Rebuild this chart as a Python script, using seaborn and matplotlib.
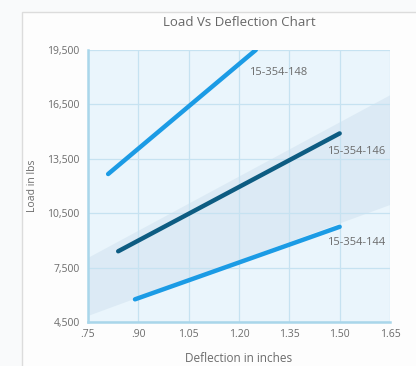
import numpy as np
import pandas as pd
import matplotlib
matplotlib.use("Agg")
import matplotlib.pyplot as plt
from matplotlib.patches import Rectangle, Polygon
import seaborn as sns

# Load vs deflection for each spring part number
parts = ["15-354-148", "15-354-146", "15-354-144"]
deflection_148 = [0.81, 1.25]
load_148 = [12660, 19500]
deflection_146 = [0.84, 1.50]
load_146 = [8400, 14900]
deflection_144 = [0.89, 1.50]
load_144 = [5750, 9750]

x_ticks = [0.75, 0.90, 1.05, 1.20, 1.35, 1.50, 1.65]
x_tick_labels = [".75", ".90", "1.05", "1.20", "1.35", "1.50", "1.65"]
y_ticks = [4500, 7500, 10500, 13500, 16500, 19500]
y_tick_labels = ["4,500", "7,500", "10,500", "13,500", "16,500", "19,500"]

df = pd.DataFrame({
    "Deflection": deflection_148 + deflection_146 + deflection_144,
    "Load": load_148 + load_146 + load_144,
    "Part": [parts[0]] * 2 + [parts[1]] * 2 + [parts[2]] * 2,
})

sns.set_theme(style="white")
plt.rcParams["font.family"] = ["Open Sans", "DejaVu Sans"]

fig = plt.figure(figsize=(4.16, 3.66), dpi=100, facecolor="#f9fafb")

# card behind the chart
card = Rectangle((22 / 416, -0.05), 1.2, 1 - 12 / 366 + 0.05, transform=fig.transFigure,
                 facecolor="#fdfdfd", edgecolor="#dcdcdc", linewidth=1.0, zorder=-5)
fig.patches.append(card)

ax = fig.add_axes([88 / 416, 1 - 322 / 366, (390 - 88) / 416, (322 - 50) / 366])
ax.set_zorder(2)
ax.set_facecolor("#eaf5fc")

# diagonal shaded band
band = Polygon([(0.75, 4830), (0.75, 8030), (1.65, 17000), (1.65, 10950)],
               closed=True, facecolor="#c2d8e8", alpha=0.35, edgecolor="none", zorder=0.5)
ax.add_patch(band)

palette = {parts[0]: "#1b9be5", parts[1]: "#0d5c82", parts[2]: "#1b9be5"}
sns.lineplot(data=df, x="Deflection", y="Load", hue="Part", palette=palette,
             linewidth=3.2, legend=False, ax=ax, zorder=3, solid_capstyle="round")

ax.set_xlim(0.75, 1.65)
ax.set_ylim(4500, 19500)
ax.set_xticks(x_ticks)
ax.set_xticklabels(x_tick_labels)
ax.set_yticks(y_ticks)
ax.set_yticklabels(y_tick_labels)
ax.grid(True, color="#c6e2f1", linewidth=0.9)
ax.set_axisbelow(True)

for side in ["top", "right"]:
    ax.spines[side].set_visible(False)
for side in ["left", "bottom"]:
    ax.spines[side].set_color("#a9d6ea")
    ax.spines[side].set_linewidth(1.8)

ax.tick_params(axis="both", colors="#a9d6ea", labelcolor="#6b6b6b", labelsize=7.5,
               length=4, width=0.8, direction="out", pad=2)
ax.tick_params(axis="x", length=0, pad=5)

ax.set_xlabel("Deflection in inches", fontsize=8.5, color="#6b6b6b", labelpad=9)
ax.set_ylabel("Load in lbs", fontsize=7.5, color="#6b6b6b", labelpad=7)

# part labels next to line ends
ends = [(deflection_148[-1], load_148[-1], (16, -16)),
        (deflection_146[-1], load_146[-1], (12, -13)),
        (deflection_144[-1], load_144[-1], (12, -11))]
for part, (ex, ey, off) in zip(parts, ends):
    ax.annotate(part, (ex, ey), xytext=off, textcoords="offset points",
                ha="center", va="center", fontsize=8, color="#6b6b6b", zorder=4)

fig.text(239 / 416, 1 - 22 / 366, "Load Vs Deflection Chart", ha="center", va="center",
         fontsize=9.5, color="#666666")

fig.savefig("out.png", dpi=100, facecolor=fig.get_facecolor())
